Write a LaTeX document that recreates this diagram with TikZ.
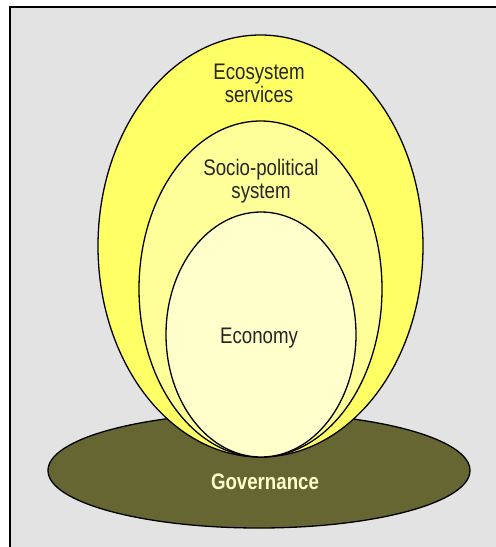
\documentclass[tikz,border=0pt]{standalone}
\usepackage{fontspec}
\setmainfont{Liberation Sans}[FakeStretch=0.83]
\usetikzlibrary{shapes.geometric}
\definecolor{panelgray}{HTML}{E3E3E3}
\definecolor{ecoyellow}{HTML}{FFFF66}
\definecolor{socyellow}{HTML}{FFFF99}
\definecolor{econyellow}{HTML}{FFFFCC}
\definecolor{govolive}{HTML}{666633}

\begin{document}
\begin{tikzpicture}[x=1pt,y=-1pt,%
        ring/.style={ellipse, draw, line width=1.3pt, inner sep=0pt},%
        lbl/.style={align=center, anchor=base, text=black!85,%
                        font=\fontsize{22.5}{23}\selectfont}]
\useasboundingbox (0,0) rectangle (496,547);
% panel
\fill[panelgray] (10,7) rectangle (496,547);
\draw[line width=2pt] (10,547) -- (10,7) -- (496,7);
% rings, back to front
\node[ring, fill=govolive, minimum width=422pt, minimum height=115pt]
    (gov) at (259,470.5) {};
\node[ring, fill=ecoyellow, minimum width=325pt, minimum height=422pt]
    (eco) at (260.5,246) {};
\node[ring, fill=socyellow, minimum width=243pt, minimum height=336pt]
    (soc) at (260.5,289) {};
\node[ring, fill=econyellow, minimum width=190pt, minimum height=245pt]
    (econ) at (261,334.5) {};
% labels (base = last line)
\node[lbl] (ecotxt) at (259,102) {Ecosystem\\services};
\node[lbl] (soctxt) at (261,198) {Socio-political\\system};
\node[lbl] (econtxt) at (259,343) {Economy};
\node[lbl, text=econyellow, font=\fontsize{22.5}{23}\selectfont\bfseries]
    (govtxt) at (265,489) {Governance};
\end{tikzpicture}
\end{document}
